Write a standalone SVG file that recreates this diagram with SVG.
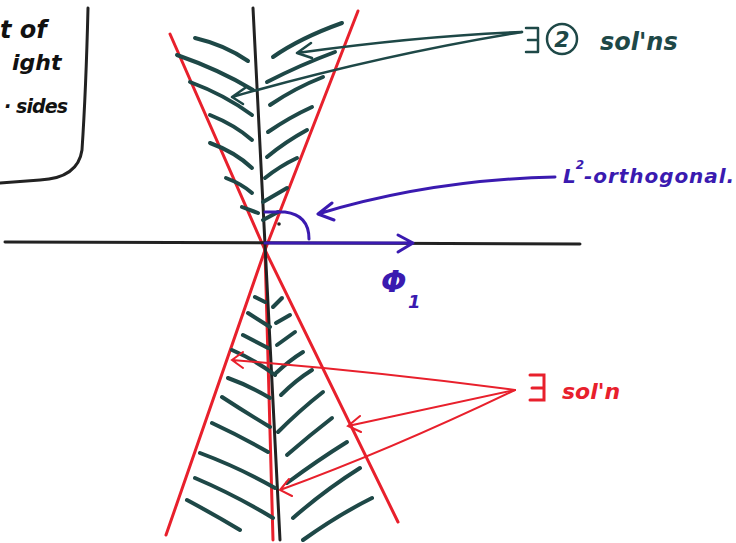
<svg xmlns="http://www.w3.org/2000/svg" width="736" height="543" viewBox="0 0 736 543">
<style>
.h{fill:none;stroke:#1e4847;stroke-width:4;stroke-linecap:round}
.r{fill:none;stroke:#e8202c;stroke-width:3;stroke-linecap:round}
.ra{fill:none;stroke:#e8202c;stroke-width:2;stroke-linecap:round}
.k{fill:none;stroke:#222;stroke-width:3;stroke-linecap:round}
.b{fill:none;stroke:#3a1ab0;stroke-width:3;stroke-linecap:round;stroke-linejoin:round}
.t{fill:none;stroke:#1e4847;stroke-width:2.5;stroke-linecap:round;stroke-linejoin:round}
.txt{font-family:"DejaVu Sans",sans-serif;font-style:italic;font-weight:bold}
</style>
<rect width="736" height="543" fill="#fff"/>
<g id="box">
<path class="k" d="M88,8 Q86,90 82,150 Q78,178 40,180 L0,183"/>
<text class="txt" x="0" y="38" font-size="24" fill="#111">t of</text>
<text class="txt" x="12" y="70" font-size="22" fill="#111">ight</text>
<text class="txt" x="4" y="113" font-size="19" fill="#111" textLength="64">· sides</text>
</g>
<g id="cones">
<line class="r" x1="170" y1="34" x2="265" y2="250"/>
<line class="r" x1="358" y1="11" x2="265" y2="250"/>
<line class="r" x1="265" y1="250" x2="166" y2="535"/>
<line class="r" x1="265" y1="250" x2="398" y2="522"/>
<line class="r" x1="265" y1="250" x2="273" y2="540"/>
<line class="k" x1="5" y1="242" x2="580" y2="244"/>
<line class="k" x1="253" y1="8" x2="280" y2="540"/>
</g>
<g id="hatch">
<path class="h" d="M195,38 Q225,45 248,61"/>
<path class="h" d="M177,55 Q220,70 253,90"/>
<path class="h" d="M190,82 Q225,95 252,115"/>
<path class="h" d="M210,115 Q235,125 252,140"/>
<path class="h" d="M210,143 Q235,152 252,168"/>
<path class="h" d="M226,178 Q242,184 252,193"/>
<path class="h" d="M242,207 L258,213"/>
<path class="h" d="M273,57 Q300,38 342,23"/>
<path class="h" d="M267,82 Q300,65 335,52"/>
<path class="h" d="M270,105 Q295,88 323,77"/>
<path class="h" d="M268,132 Q290,117 312,107"/>
<path class="h" d="M267,157 Q285,142 307,130"/>
<path class="h" d="M265,178 Q280,166 297,158"/>
<path class="h" d="M263,202 L287,188"/>
<path class="h" d="M263,220 L278,212"/>
<path class="h" d="M255,297 L265,302"/>
<path class="h" d="M248,313 L270,327"/>
<path class="h" d="M243,335 L268,348"/>
<path class="h" d="M232,350 Q255,360 275,375"/>
<path class="h" d="M228,378 Q250,386 270,398"/>
<path class="h" d="M222,397 Q245,412 270,427"/>
<path class="h" d="M212,423 Q240,436 268,452"/>
<path class="h" d="M200,453 Q240,468 275,488"/>
<path class="h" d="M195,478 Q235,495 273,518"/>
<path class="h" d="M187,500 Q215,515 240,530"/>
<path class="h" d="M273,307 L282,298"/>
<path class="h" d="M276,323 L290,315"/>
<path class="h" d="M277,345 L295,332"/>
<path class="h" d="M276,373 Q290,360 303,352"/>
<path class="h" d="M281,395 Q296,380 312,370"/>
<path class="h" d="M278,432 Q300,410 323,392"/>
<path class="h" d="M287,455 Q310,435 332,418"/>
<path class="h" d="M287,483 Q318,460 347,442"/>
<path class="h" d="M293,518 Q325,490 360,468"/>
<path class="h" d="M303,540 Q338,515 372,498"/>
</g>
<g id="phi">
<path class="b" d="M265,243 L412,243 M398,235 L413,243 L398,252"/>
<path class="b" d="M265,212 L285,212 Q309,215 309,239"/>
<circle cx="279" cy="224" r="1.8" fill="#222"/>
<text class="txt" x="381" y="292" font-size="30" fill="#3a1ab0" font-style="normal">Φ</text>
<text class="txt" x="408" y="308" font-size="18" fill="#3a1ab0">1</text>
</g>
<g id="orth">
<path class="b" d="M555,177 Q430,180 318,214 M332,203 L318,214 L334,220"/>
<text class="txt" x="563" y="183" font-size="20" fill="#3a1ab0">L<tspan dy="-14" font-size="12">2</tspan><tspan dy="14" textLength="150">-orthogonal.</tspan></text>
</g>
<g id="two">
<path class="t" d="M522,32 Q420,36 297,53 M311,43 L297,53 L312,58"/>
<path class="t" d="M522,32 Q380,55 232,97 M245,88 L232,97 L243,104"/>
<path class="t" d="M526,28 L538,28 L538,52 L526,52 M528,40 L537,40" stroke-width="3"/>
<ellipse cx="562" cy="39" rx="15" ry="15" class="t" stroke-width="2.5"/>
<text class="txt" x="562" y="47" font-size="22" fill="#1e4847" text-anchor="middle" font-style="normal">2</text>
<text class="txt" x="600" y="50" font-size="24" fill="#1e4847">sol'ns</text>
</g>
<g id="one">
<path class="ra" d="M515,390 Q380,372 232,360 M243,352 L232,360 L243,368"/>
<path class="ra" d="M515,390 Q430,408 348,426 M360,416 L348,426 L361,432"/>
<path class="ra" d="M515,390 Q390,450 280,490 M289,479 L280,490 L292,496"/>
<path class="r" d="M530,375 L544,375 L544,400 L530,400 M532,388 L543,388" stroke-width="3.5"/>
<text class="txt" x="562" y="399" font-size="22" fill="#e8202c">sol'n</text>
</g>
</svg>
